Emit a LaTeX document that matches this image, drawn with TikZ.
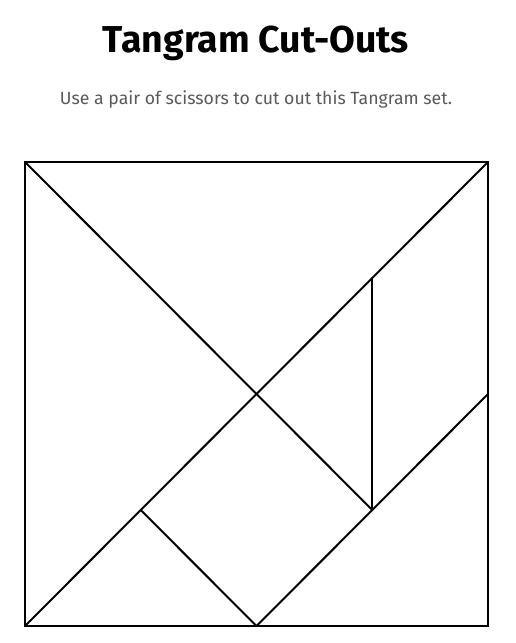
\documentclass[tikz,border=0pt]{standalone}
\usepackage{fontspec}
\setmainfont{Fira Sans}
\begin{document}
\begin{tikzpicture}[x=1pt,y=-1pt,
  cut/.style={line width=2pt,black,line cap=round,line join=round},
  frame/.style={line width=2.5pt,black,line join=miter},
  title/.style={font=\fontsize{30}{34}\selectfont\bfseries,inner sep=0pt},
  sub/.style={font=\fontsize{15}{18}\selectfont,text=black!65,inner sep=0pt}]
\useasboundingbox (0,0) rectangle (515,643);
\node[title] (t) at (256,43) {\resizebox{306pt}{!}{Tangram Cut-Outs}};
\node[sub] (s) at (256,99) {\resizebox{392pt}{!}{Use a pair of scissors to cut out this Tangram set.}};
\coordinate (TL) at (25,162);
\coordinate (TR) at (488,162);
\coordinate (BL) at (25,626);
\coordinate (BR) at (488,626);
\coordinate (C) at (256.5,394);
\coordinate (D) at (372.25,510);
\coordinate (E) at (372.25,278);
\coordinate (F) at (488,394);
\coordinate (G) at (256.5,626);
\coordinate (H) at (140.75,510);
\draw[cut] (TL) -- (D);
\draw[cut] (BL) -- (TR);
\draw[cut] (E) -- (D);
\draw[cut] (F) -- (G);
\draw[cut] (H) -- (G);
\draw[frame] (TL) -- (TR) -- (BR) -- (BL) -- cycle;
\end{tikzpicture}
\end{document}
